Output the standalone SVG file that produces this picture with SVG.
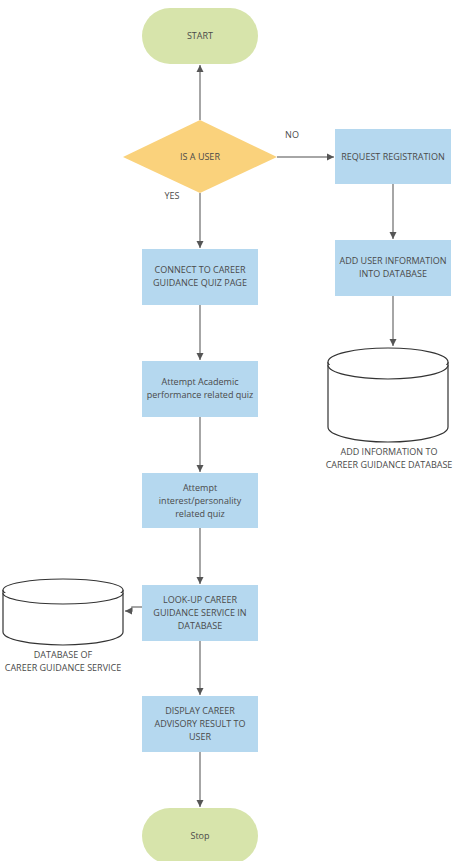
<svg xmlns="http://www.w3.org/2000/svg" width="457" height="861" viewBox="0 0 457 861">
<defs>
<marker id="ah" markerWidth="8" markerHeight="8" refX="7" refY="4" orient="auto" markerUnits="userSpaceOnUse">
<path d="M0,0.5 L7,4 L0,7.5 Z" fill="#555"/>
</marker>
</defs>
<style>
.t{font-family:"Open Sans","Liberation Sans",sans-serif;font-size:9px;fill:#4a4a4a;text-anchor:middle}
.term{fill:#d7e4ab}
.proc{fill:#b5d8ef}
.dec{fill:#fad27c}
.c{stroke:#888;stroke-width:1.5;fill:none;marker-end:url(#ah)}
.db{fill:#fff;stroke:#333;stroke-width:1.2}
</style>
<rect width="457" height="861" fill="#fff"/>
<g id="connectors">
<line class="c" x1="200" y1="120" x2="200" y2="65"/>
<line class="c" x1="277" y1="157" x2="334" y2="157"/>
<line class="c" x1="200" y1="193" x2="200" y2="248"/>
<line class="c" x1="393" y1="184" x2="393" y2="239"/>
<line class="c" x1="393" y1="296" x2="393" y2="346"/>
<line class="c" x1="200" y1="305" x2="200" y2="360"/>
<line class="c" x1="200" y1="417" x2="200" y2="472"/>
<line class="c" x1="200" y1="528" x2="200" y2="584"/>
<path class="c" d="M142,607 H132 V611 H125"/>
<line class="c" x1="200" y1="641" x2="200" y2="695"/>
<line class="c" x1="200" y1="752" x2="200" y2="807"/>
<text class="t" x="292" y="138">NO</text>
<text class="t" x="172" y="199">YES</text>
</g>
<g id="start">
<rect class="term" x="142" y="8" width="116" height="56" rx="28"/>
<text class="t" x="200" y="39">START</text>
</g>
<g id="is-user">
<polygon class="dec" points="200,120 277,157 200,193 123,157"/>
<text class="t" x="200" y="160">IS A USER</text>
</g>
<g id="request">
<rect class="proc" x="335" y="129" width="116" height="55"/>
<text class="t" x="393" y="160">REQUEST REGISTRATION</text>
</g>
<g id="add-user">
<rect class="proc" x="335" y="240" width="116" height="56"/>
<text class="t" x="393" y="264">ADD USER INFORMATION</text>
<text class="t" x="393" y="277">INTO DATABASE</text>
</g>
<g id="db-right">
<path class="db" d="M328,362 V427 A60,15 0 0 0 448,427 V362"/>
<ellipse class="db" cx="388" cy="362" rx="60" ry="14"/>
<path class="db" d="M328,365 A60,14 0 0 0 448,365" fill="none"/>
<text class="t" x="389" y="455">ADD INFORMATION TO</text>
<text class="t" x="389" y="468">CAREER GUIDANCE DATABASE</text>
</g>
<g id="connect">
<rect class="proc" x="142" y="249" width="116" height="56"/>
<text class="t" x="200" y="273">CONNECT TO CAREER</text>
<text class="t" x="200" y="286">GUIDANCE QUIZ PAGE</text>
</g>
<g id="academic">
<rect class="proc" x="142" y="361" width="116" height="56"/>
<text class="t" x="200" y="385">Attempt Academic</text>
<text class="t" x="200" y="398">performance related quiz</text>
</g>
<g id="interest">
<rect class="proc" x="142" y="473" width="116" height="55"/>
<text class="t" x="200" y="491">Attempt</text>
<text class="t" x="200" y="504">interest/personality</text>
<text class="t" x="200" y="517">related quiz</text>
</g>
<g id="lookup">
<rect class="proc" x="142" y="585" width="116" height="56"/>
<text class="t" x="200" y="603">LOOK-UP CAREER</text>
<text class="t" x="200" y="616">GUIDANCE SERVICE IN</text>
<text class="t" x="200" y="629">DATABASE</text>
</g>
<g id="db-left">
<path class="db" d="M3,590 V632 A60,13 0 0 0 123,632 V590"/>
<ellipse class="db" cx="63" cy="590" rx="60" ry="11"/>
<path class="db" d="M3,593 A60,11 0 0 0 123,593" fill="none"/>
<text class="t" x="63" y="658">DATABASE OF</text>
<text class="t" x="63" y="671">CAREER GUIDANCE SERVICE</text>
</g>
<g id="display">
<rect class="proc" x="142" y="696" width="116" height="56"/>
<text class="t" x="200" y="714">DISPLAY CAREER</text>
<text class="t" x="200" y="727">ADVISORY RESULT TO</text>
<text class="t" x="200" y="740">USER</text>
</g>
<g id="stop">
<rect class="term" x="142" y="808" width="116" height="56" rx="28"/>
<text class="t" x="200" y="839">Stop</text>
</g>
</svg>
